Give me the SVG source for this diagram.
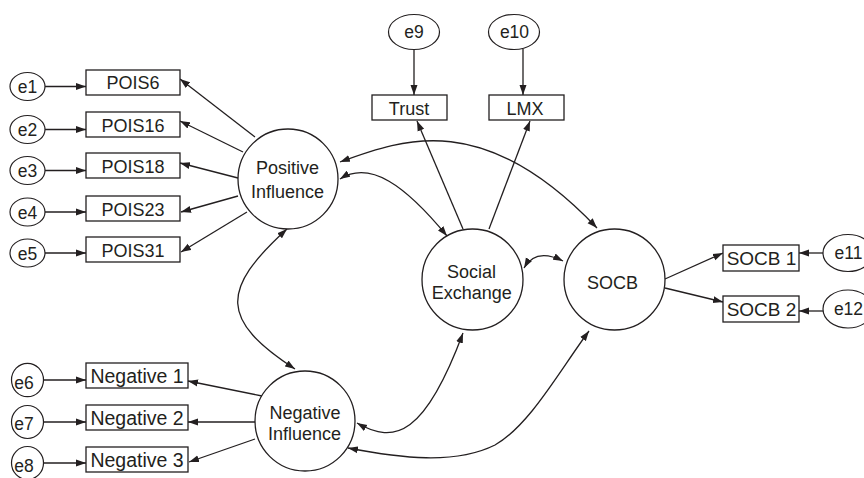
<svg xmlns="http://www.w3.org/2000/svg" width="864" height="478" viewBox="0 0 864 478">
<style>
.box{fill:#fff;stroke:#231f20;stroke-width:1.3}
.lat{fill:#fff;stroke:#231f20;stroke-width:1.3}
.err{fill:#fff;stroke:#231f20;stroke-width:1.2}
.t{font-family:"Liberation Sans",Arial,sans-serif;fill:#231f20;text-anchor:middle}
.bl{font-size:18px}
.nl{font-size:19.5px}
.sl{font-size:19px}
.el{font-size:17.5px}
.ll{font-size:18px}
.c{fill:none;stroke:#231f20;stroke-width:1.3}
.a{marker-end:url(#ah)}
.d{marker-start:url(#ah);marker-end:url(#ah)}
</style>
<defs>
<marker id="ah" markerUnits="userSpaceOnUse" markerWidth="10" markerHeight="8" viewBox="0 0 10 7" refX="10" refY="3.5" orient="auto-start-reverse">
<path d="M0,0 L10,3.5 L0,7 z" fill="#231f20"/>
</marker>
</defs>
<rect width="864" height="478" fill="#fff"/>

<g id="connectors">
<path class="c a" d="M45,86.5 L86,86.5"/>
<path class="c a" d="M45,129.5 L86,129.5"/>
<path class="c a" d="M45,170.5 L86,170.5"/>
<path class="c a" d="M45,212 L86,212"/>
<path class="c a" d="M45,253 L86,253"/>
<path class="c a" d="M43,380 L86,380"/>
<path class="c a" d="M43,422 L86,422"/>
<path class="c a" d="M43,463 L86,463"/>
<path class="c a" d="M414,49.5 L414,95"/>
<path class="c a" d="M523,49 L523,95"/>
<path class="c a" d="M823,253 L799,253"/>
<path class="c a" d="M823,311 L799,311"/>
<path class="c a" d="M255,137 L180,79"/>
<path class="c a" d="M243,152 L180,121"/>
<path class="c a" d="M238,178 L180,163"/>
<path class="c a" d="M238,196 L181,212"/>
<path class="c a" d="M247,212 L181,252"/>
<path class="c a" d="M262,396 L188,381"/>
<path class="c a" d="M255,422 L188,422"/>
<path class="c a" d="M255,439 L189,462"/>
<path class="c a" d="M463,229 L417,121"/>
<path class="c a" d="M489,229 L530,121"/>
<path class="c a" d="M665,279 L723,253"/>
<path class="c a" d="M665,288 L723,302"/>
<path class="c d" d="M340,179 C370,160 405,185 447,236"/>
<path class="c d" d="M340,162 C405,138 485,110 597,228"/>
<path class="c d" d="M524,268 C532,254 545,252 563,261"/>
<path class="c d" d="M287,229 C220,290 220,320 295,369"/>
<path class="c d" d="M357,423 C395,445 425,435 463,333"/>
<path class="c d" d="M348,448 C400,458 455,465 495,445 C530,425 560,370 589,331"/>
</g>

<g id="e1"><ellipse class="err" cx="27.5" cy="86.5" rx="17.5" ry="14"/><text class="t el" x="27.5" y="93">e1</text></g>
<g id="e2"><ellipse class="err" cx="27.5" cy="129.5" rx="17.5" ry="14"/><text class="t el" x="27.5" y="136">e2</text></g>
<g id="e3"><ellipse class="err" cx="27.5" cy="170.5" rx="17.5" ry="14"/><text class="t el" x="27.5" y="177">e3</text></g>
<g id="e4"><ellipse class="err" cx="27.5" cy="212" rx="17.5" ry="14"/><text class="t el" x="27.5" y="218.5">e4</text></g>
<g id="e5"><ellipse class="err" cx="27.5" cy="253" rx="17.5" ry="14"/><text class="t el" x="27.5" y="259.5">e5</text></g>
<g id="e6"><ellipse class="err" cx="27.5" cy="380" rx="16" ry="16.7"/><text class="t el" x="24" y="389">e6</text></g>
<g id="e7"><ellipse class="err" cx="27.5" cy="422" rx="16" ry="16.5"/><text class="t el" x="24" y="430">e7</text></g>
<g id="e8"><ellipse class="err" cx="27.5" cy="463" rx="16" ry="16.5"/><text class="t el" x="24" y="471.5">e8</text></g>
<g id="e9"><ellipse class="err" cx="414" cy="32" rx="25.5" ry="17.5"/><text class="t el" x="414" y="38.3">e9</text></g>
<g id="e10"><ellipse class="err" cx="514" cy="32" rx="25.5" ry="17.5"/><text class="t el" x="514.5" y="38.3">e10</text></g>
<g id="e11"><ellipse class="err" cx="848" cy="253" rx="25" ry="18.5"/><text class="t el" x="848.5" y="258.5">e11</text></g>
<g id="e12"><ellipse class="err" cx="848" cy="309" rx="25" ry="19"/><text class="t el" x="848.5" y="315">e12</text></g>

<g id="POIS6"><rect class="box" x="86" y="70" width="94" height="25"/><text class="t bl" x="133" y="89.3">POIS6</text></g>
<g id="POIS16"><rect class="box" x="86" y="112" width="94" height="25"/><text class="t bl" x="133" y="131.5">POIS16</text></g>
<g id="POIS18"><rect class="box" x="86" y="153" width="94" height="25"/><text class="t bl" x="133" y="172.5">POIS18</text></g>
<g id="POIS23"><rect class="box" x="86" y="196" width="94" height="25"/><text class="t bl" x="133" y="215.5">POIS23</text></g>
<g id="POIS31"><rect class="box" x="86" y="237" width="94" height="25"/><text class="t bl" x="133" y="256.5">POIS31</text></g>

<g id="Negative1"><rect class="box" x="86" y="363" width="102" height="25"/><text class="t nl" x="137" y="382.7">Negative 1</text></g>
<g id="Negative2"><rect class="box" x="86" y="405" width="102" height="25"/><text class="t nl" x="137" y="424.7">Negative 2</text></g>
<g id="Negative3"><rect class="box" x="86" y="447" width="102" height="25"/><text class="t nl" x="137" y="466.7">Negative 3</text></g>

<g id="Trust"><rect class="box" x="372" y="95" width="75" height="25"/><text class="t ll" x="409" y="114.5">Trust</text></g>
<g id="LMX"><rect class="box" x="489" y="95" width="75" height="25"/><text class="t ll" x="525" y="114.5">LMX</text></g>

<g id="SOCB1"><rect class="box" x="723" y="245" width="76" height="26"/><text class="t sl" x="761.5" y="265">SOCB 1</text></g>
<g id="SOCB2"><rect class="box" x="723" y="296" width="76" height="26"/><text class="t sl" x="761.5" y="315.5">SOCB 2</text></g>

<g id="PositiveInfluence"><circle class="lat" cx="288" cy="179" r="50"/><text class="t bl" x="287.5" y="174.3">Positive</text><text class="t bl" x="287.5" y="197.7">Influence</text></g>
<g id="NegativeInfluence"><circle class="lat" cx="305" cy="421" r="50"/><text class="t bl" x="305" y="419.3">Negative</text><text class="t bl" x="304.5" y="440">Influence</text></g>
<g id="SocialExchange"><circle class="lat" cx="472.5" cy="279.5" r="50.5"/><text class="t bl" x="471.5" y="277.7">Social</text><text class="t bl" x="471.7" y="299">Exchange</text></g>
<g id="SOCB"><circle class="lat" cx="614.5" cy="279.5" r="50.5"/><text class="t bl" x="612.5" y="289.3">SOCB</text></g>
</svg>
